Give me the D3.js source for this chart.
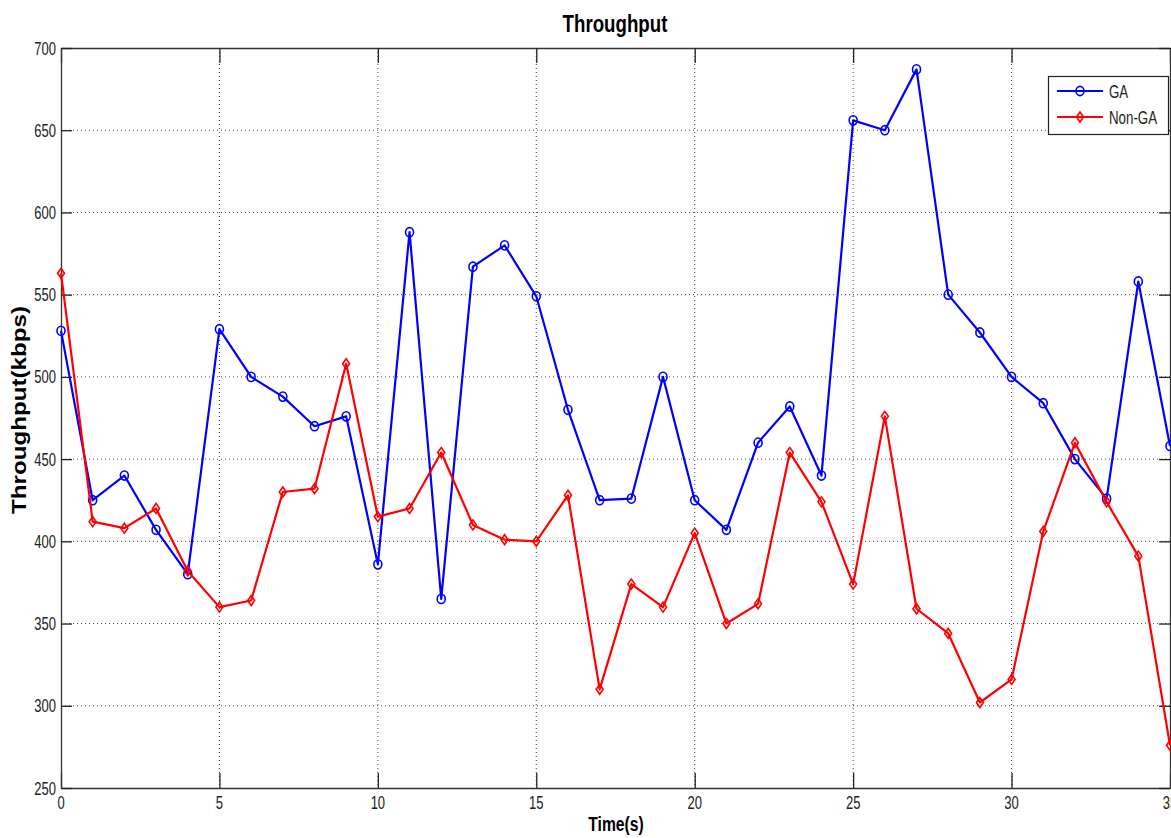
<!DOCTYPE html>
<html>
<head>
<meta charset="utf-8">
<script src="https://cdn.jsdelivr.net/npm/d3@7"></script>
<style>
  body { margin: 0; background: #fff; }
  text { font-family: "Liberation Sans", Arial, sans-serif; }
</style>
</head>
<body>
<div id="chartContainer"></div>
<script>
var time = [0, 1, 2, 3, 4, 5, 6, 7, 8, 9, 10, 11, 12, 13, 14, 15, 16, 17, 18, 19, 20, 21, 22, 23, 24, 25, 26, 27, 28, 29, 30, 31, 32, 33, 34, 35];
var gaValues = [528, 425, 440, 407, 380, 529, 500, 488, 470, 476, 386, 588, 365, 567, 580, 549, 480, 425, 426, 500, 425, 407, 460, 482, 440, 656, 650, 687, 550, 527, 500, 484, 450, 426, 558, 458];
var nonGaValues = [563, 412, 408, 420, 382, 360, 364, 430, 432, 508, 415, 420, 454, 410, 401, 400, 428, 310, 374, 360, 405, 350, 362, 454, 424, 374, 476, 359, 344, 302, 316, 406, 460, 424, 391, 276];
var xTicks = [0, 5, 10, 15, 20, 25, 30, 35];
var yTicks = [250, 300, 350, 400, 450, 500, 550, 600, 650, 700];
var seriesNames = ['GA', 'Non-GA'];

var width = 1171;
var height = 838;
var plotLeft = 61, plotRight = 1170, plotTop = 48, plotBottom = 788;

var svg = d3.select('#chartContainer').
append('svg').
attr('width', width).
attr('height', height);

var xScale = d3.scaleLinear().domain([0, 35]).range([plotLeft, plotRight]);
var yScale = d3.scaleLinear().domain([250, 700]).range([plotBottom, plotTop]);

// dotted grid
svg.append('g').selectAll('line').
data(xTicks.slice(1, -1)).
enter().
append('line').
attr('x1', function (d) {return xScale(d);}).
attr('x2', function (d) {return xScale(d);}).
attr('y1', plotTop).
attr('y2', plotBottom).
attr('stroke', '#444').
attr('stroke-dasharray', '1,3');

svg.append('g').selectAll('line').
data(yTicks.slice(1, -1)).
enter().
append('line').
attr('x1', plotLeft).
attr('x2', plotRight).
attr('y1', function (d) {return yScale(d);}).
attr('y2', function (d) {return yScale(d);}).
attr('stroke', '#444').
attr('stroke-dasharray', '1,3');

// axes (inward ticks, MATLAB style)
var xAxis = d3.axisBottom(xScale).tickValues(xTicks).tickSize(-15).tickSizeOuter(0).tickFormat('');
var xAxisTop = d3.axisTop(xScale).tickValues(xTicks).tickSize(-15).tickSizeOuter(0).tickFormat('');
var yAxis = d3.axisLeft(yScale).tickValues(yTicks).tickSize(-11).tickSizeOuter(0).tickFormat('');
var yAxisRight = d3.axisRight(yScale).tickValues(yTicks).tickSize(-11).tickSizeOuter(0).tickFormat('');

[[xAxis, 'translate(0,' + plotBottom + ')'], [xAxisTop, 'translate(0,' + plotTop + ')'],
 [yAxis, 'translate(' + plotLeft + ',0)'], [yAxisRight, 'translate(' + plotRight + ',0)']].forEach(function (a) {
  var g = svg.append('g').attr('transform', a[1]).call(a[0]);
  g.select('.domain').attr('stroke', '#333').attr('stroke-width', 1.3);
  g.selectAll('.tick line').attr('stroke', '#222').attr('stroke-width', 1.3);
});

// tick labels
svg.append('g').selectAll('text').
data(xTicks).
enter().
append('text').
attr('transform', function (d) {return 'translate(' + xScale(d) + ',809) scale(1,1.4)';}).
attr('text-anchor', 'middle').
style('font-size', '13px').
attr('fill', '#222').
text(function (d) {return d;});

svg.append('g').selectAll('text').
data(yTicks).
enter().
append('text').
attr('transform', function (d) {return 'translate(56,' + (yScale(d) + 6.5) + ') scale(1,1.4)';}).
attr('text-anchor', 'end').
style('font-size', '13px').
attr('fill', '#222').
text(function (d) {return d;});

// titles
svg.append('text').
attr('transform', 'translate(615,32) scale(1,1.3)').
attr('text-anchor', 'middle').
style('font-size', '18.7px').
style('font-weight', 'bold').
text('Throughput');

svg.append('text').
attr('transform', 'translate(616,831) scale(1,1.3)').
attr('text-anchor', 'middle').
style('font-size', '15.7px').
style('font-weight', 'bold').
text('Time(s)');

svg.append('text').
attr('transform', 'translate(26,410) rotate(-90) scale(1.24,1)').
attr('text-anchor', 'middle').
style('font-size', '19.5px').
style('font-weight', 'bold').
text('Throughput(kbps)');

// series
var colors = ['#0000ff', '#ff0000'];
var series = [gaValues, nonGaValues];

var line = d3.line().
x(function (d, i) {return xScale(time[i]);}).
y(function (d) {return yScale(d);});

function diamond(g, x, y, c) {
  g.append('path').
  attr('d', 'M' + x + ',' + (y - 5) + 'L' + (x + 3.5) + ',' + y + 'L' + x + ',' + (y + 5) + 'L' + (x - 3.5) + ',' + y + 'Z').
  attr('fill', 'none').
  attr('stroke', c).
  attr('stroke-width', 1.6);
}

function circle(g, x, y, c) {
  g.append('ellipse').
  attr('cx', x).
  attr('cy', y).
  attr('rx', 4).
  attr('ry', 4.6).
  attr('fill', 'none').
  attr('stroke', c).
  attr('stroke-width', 1.6);
}

series.forEach(function (vals, s) {
  var g = svg.append('g');
  g.append('path').
  datum(vals).
  attr('d', line).
  attr('fill', 'none').
  attr('stroke', colors[s]).
  attr('stroke-width', 2.2).
  attr('stroke-linejoin', 'round');
  vals.forEach(function (v, i) {
    if (s === 0) circle(g, xScale(time[i]), yScale(v), colors[s]);
    else diamond(g, xScale(time[i]), yScale(v), colors[s]);
  });
});

// legend
var legend = svg.append('g');
legend.append('rect').
attr('x', 1048.5).
attr('y', 76.5).
attr('width', 120).
attr('height', 58).
attr('fill', '#fff').
attr('stroke', '#222').
attr('stroke-width', 1.2);

seriesNames.forEach(function (name, s) {
  var y = s === 0 ? 91 : 117;
  legend.append('line').
  attr('x1', 1057).
  attr('x2', 1103).
  attr('y1', y).
  attr('y2', y).
  attr('stroke', colors[s]).
  attr('stroke-width', 2.2);
  if (s === 0) circle(legend, 1080, y, colors[s]);
  else diamond(legend, 1080, y, colors[s]);
  legend.append('text').
  attr('transform', 'translate(1109,' + (y + 6.5) + ') scale(1,1.4)').
  style('font-size', '13.3px').
  attr('fill', '#222').
  text(name);
});
</script>
</body>
</html>
